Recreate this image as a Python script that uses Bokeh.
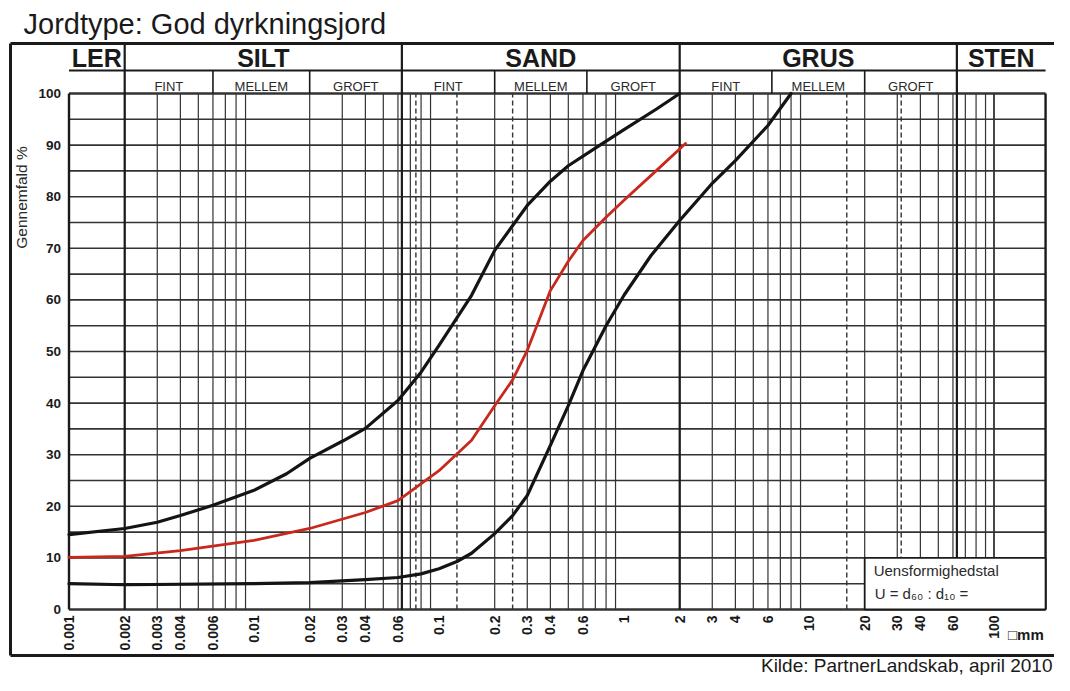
import math
from bokeh.plotting import figure
from bokeh.models import Range1d
from bokeh.core.properties import value
from bokeh.embed import file_html
from bokeh.resources import INLINE

# ---------------- data ----------------
title_text = "Jordtype: God dyrkningsjord"
source_text = "Kilde: PartnerLandskab, april 2010"
y_label = "Gennemfald %"

# grain size (mm) and passing percentage of the three curves
sizes_upper = [0.001, 0.002, 0.003, 0.004, 0.006, 0.01, 0.015, 0.02, 0.03, 0.04, 0.06, 0.08,
               0.1, 0.15, 0.2, 0.3, 0.4, 0.5, 0.7, 1, 1.5, 2]
pct_upper = [14.5, 15.7, 16.9, 18.2, 20.2, 23.1, 26.3, 29.3, 32.6, 35.1, 40.5, 46.0,
             51.2, 60.9, 69.6, 78.3, 83.0, 86.0, 89.4, 93.0, 97.0, 100]

sizes_mid = [0.001, 0.002, 0.004, 0.01, 0.02, 0.04, 0.06, 0.1, 0.15, 0.2, 0.25, 0.3,
             0.4, 0.5, 0.6, 0.8, 1, 1.5, 2.15]
pct_mid = [10.1, 10.3, 11.4, 13.4, 15.7, 18.8, 21.1, 26.9, 32.8, 39.5, 44.5, 50.2,
           61.8, 67.5, 71.5, 76.0, 79.3, 85.1, 90.3]

sizes_lower = [0.001, 0.002, 0.01, 0.02, 0.04, 0.06, 0.08, 0.1, 0.125, 0.15, 0.2, 0.25, 0.3,
               0.4, 0.5, 0.6, 0.8, 1, 1.4, 2, 3, 4, 6, 8]
pct_lower = [5.0, 4.8, 5.0, 5.2, 5.8, 6.2, 6.9, 7.9, 9.3, 10.9, 14.7, 18.2, 22.1,
             31.8, 39.5, 46.3, 55.0, 60.9, 68.6, 75.4, 82.6, 87.0, 93.8, 100]

# soil classes (main) and sub classes
class_names = ["LER", "SILT", "SAND", "GRUS", "STEN"]
class_bounds = [0.001, 0.002, 0.063, 2, 63, 190]
sub_names = ["FINT", "MELLEM", "GROFT"]
sub_bounds = [0.002, 0.006, 0.02, 0.063, 0.2, 0.63, 2, 6.3, 20, 63]
sieve_sizes = [0.075, 0.125, 0.25, 16, 31.5]   # dashed lines

x_tick_values = [0.001, 0.002, 0.003, 0.004, 0.006, 0.01, 0.02, 0.03, 0.04, 0.06,
                 0.1, 0.2, 0.3, 0.4, 0.6, 1, 2, 3, 4, 6, 10, 20, 30, 40, 60, 100]
x_tick_labels = ["0.001", "0.002", "0.003", "0.004", "0.006", "0.01", "0.02", "0.03", "0.04", "0.06",
                 "0.1", "0.2", "0.3", "0.4", "0.6", "1", "2", "3", "4", "6", "10", "20", "30", "40", "60", "100"]
y_tick_values = [0, 10, 20, 30, 40, 50, 60, 70, 80, 90, 100]
y_tick_labels = [str(v) for v in y_tick_values]

x_min, x_max = 0.001, 190
box_left, box_top = 20, 10

# ---------------- layout (pixels of the picture) ----------------
W, H = 1054, 675
X0PX, DEC = 68.5, 185.0     # x pixel of 0.001 mm, pixels per decade
Y0PX, PCT = 609.0, 5.16     # y pixel of 0 %, pixels per percent


def xv(px):
    return 10 ** ((px - X0PX) / DEC - 3)


def yv(py):
    return (Y0PX - py) / PCT


p = figure(width=W, height=H, x_axis_type="log",
           x_range=Range1d(xv(0), xv(W)),
           y_range=Range1d(yv(H), yv(0)),
           x_axis_location=None, y_axis_location=None,
           output_backend="svg", toolbar_location=None, min_border=0,
           outline_line_color=None, background_fill_color="white",
           border_fill_color="white")
p.xgrid.visible = False
p.ygrid.visible = False

FONT = value("Liberation Sans")
INK = "#1a1a1a"
GRID = "#333333"

head_top = yv(43)
head_mid = yv(70)
frame_bottom = yv(655)

# ---- outer frame
p.segment(x0=[xv(10), xv(10), xv(10)], y0=[head_top, head_top, frame_bottom],
          x1=[xv(1080), xv(10), xv(1080)], y1=[head_top, frame_bottom, frame_bottom],
          line_color=INK, line_width=3)

# ---- horizontal grid
hy = list(range(0, 101, 5))
p.segment(x0=[x_min] * len(hy), y0=hy, x1=[x_max] * len(hy), y1=hy,
          line_color=GRID, line_width=[2.4 if v in (0, 100) else 1.6 for v in hy])

# ---- vertical grid
minor = [round(k * 10 ** n, 6) for n in range(-3, 2) for k in range(2, 10)] + [100]
p.segment(x0=minor, y0=[0] * len(minor), x1=minor, y1=[100] * len(minor),
          line_color=GRID, line_width=[1.8 if abs(math.log10(v) - round(math.log10(v))) < 1e-9 else 1.2 for v in minor])
p.segment(x0=sieve_sizes, y0=[0] * len(sieve_sizes), x1=sieve_sizes, y1=[100] * len(sieve_sizes),
          line_color=GRID, line_width=1.4, line_dash="5 3")
# plot borders
p.segment(x0=[x_min, x_max], y0=[0, 0], x1=[x_min, x_max], y1=[100, 100], line_color=INK, line_width=2.4)

# ---- header
inner = class_bounds[1:-1]
p.segment(x0=inner, y0=[0] * len(inner), x1=inner, y1=[head_top] * len(inner), line_color=INK, line_width=2.2)
p.segment(x0=[x_min], y0=[head_mid], x1=[x_max], y1=[head_mid], line_color=INK, line_width=1.8)
sub_inner = [b for b in sub_bounds if b not in class_bounds]
p.segment(x0=sub_inner, y0=[100] * len(sub_inner), x1=sub_inner, y1=[head_mid] * len(sub_inner),
          line_color=INK, line_width=1.6)

class_x = [math.sqrt(a * b) for a, b in zip(class_bounds[:-1], class_bounds[1:])]
p.text(x=class_x, y=[yv(57)] * len(class_x), text=class_names, text_font=FONT,
       text_font_size="25px", text_font_style="bold", text_align="center",
       text_baseline="middle", text_color=INK)

sub_x = []
for i in range(len(sub_bounds) - 1):
    a, b = sub_bounds[i], sub_bounds[i + 1]
    if a in class_bounds and b in class_bounds:
        continue
    sub_x.append(math.sqrt(a * b))
sub_t = sub_names * 3
p.text(x=sub_x, y=[yv(86)] * len(sub_x), text=sub_t, text_font=FONT, text_font_size="13px",
       text_align="center", text_baseline="middle", text_color="#2a2a2a")

# ---- curves
p.line(sizes_upper, pct_upper, line_color="#141414", line_width=3.2, line_join="round", line_cap="round")
p.line(sizes_lower, pct_lower, line_color="#141414", line_width=3.2, line_join="round", line_cap="round")
p.line(sizes_mid, pct_mid, line_color="#c9281c", line_width=2.8, line_join="round", line_cap="round")

# ---- uniformity box
p.quad(left=[box_left], right=[x_max], bottom=[0], top=[box_top], fill_color="white",
       line_color=INK, line_width=1.8)
p.text(x=[box_left], y=[yv(570)], text=["Uensformighedstal"], x_offset=9, text_font=FONT,
       text_font_size="15px", text_baseline="middle", text_color="#2a2a2a")
p.text(x=[box_left], y=[yv(593)], text=["U = d\u2086\u2080 : d\u2081\u2080 ="], x_offset=10, text_font=FONT,
       text_font_size="15px", text_baseline="middle", text_color="#2a2a2a")

# ---- tick labels
p.text(x=[x_min] * len(y_tick_values), y=y_tick_values, text=y_tick_labels, x_offset=-8,
       text_font=FONT, text_font_size="13.5px", text_font_style="bold", text_align="right",
       text_baseline="middle", text_color=INK)
p.text(x=x_tick_values, y=[yv(615)] * len(x_tick_values), text=x_tick_labels, angle=math.pi / 2,
       text_font=FONT, text_font_size="14px", text_font_style="bold", text_align="right",
       text_baseline="middle", text_color=INK)
p.text(x=[x_tick_values[-1]], y=[yv(634)], text=["\u25a1mm"], x_offset=14, text_font=FONT,
       text_font_size="15px", text_font_style="bold", text_baseline="middle", text_color=INK)

# ---- axis title, title, source
p.text(x=[xv(21)], y=[yv(197)], text=[y_label], angle=math.pi / 2, text_font=FONT,
       text_font_size="15.5px", text_align="center", text_baseline="middle", text_color="#2a2a2a")
p.text(x=[xv(23)], y=[yv(23)], text=[title_text], text_font=FONT, text_font_size="29px",
       text_baseline="middle", text_color=INK)
p.text(x=[xv(1052)], y=[yv(664.5)], text=[source_text], text_font=FONT, text_font_size="19px",
       text_align="right", text_baseline="middle", text_color=INK)

open("out.html", "w").write(file_html(p, INLINE))
